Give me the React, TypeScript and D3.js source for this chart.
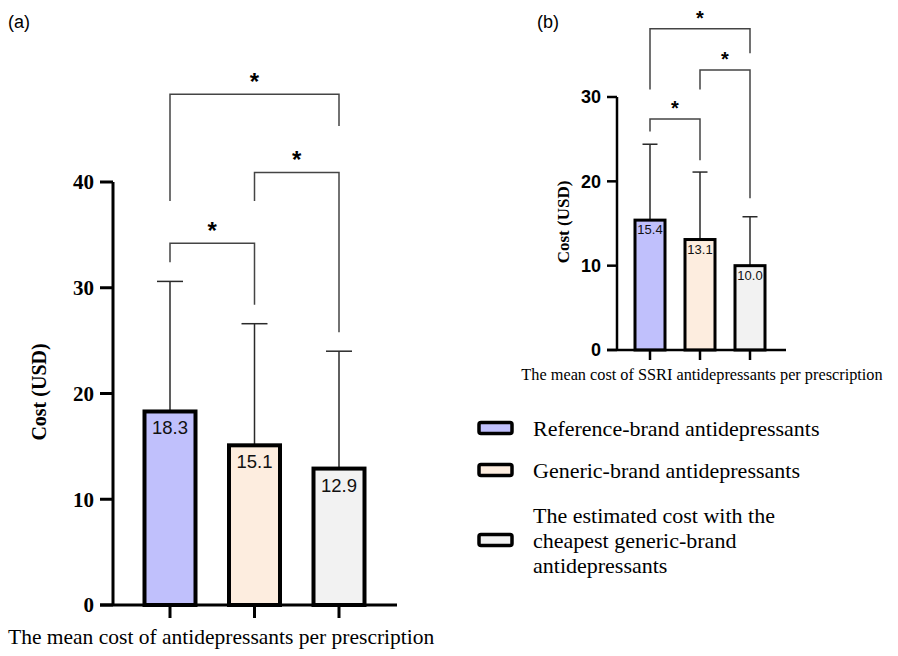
import React from 'react';
import * as d3 from 'd3';

// data
const groups = [
  'Reference-brand antidepressants',
  'Generic-brand antidepressants',
  'The estimated cost with the cheapest generic-brand antidepressants',
];
const legendLines = [
  ['Reference-brand antidepressants'],
  ['Generic-brand antidepressants'],
  ['The estimated cost with the', 'cheapest generic-brand', 'antidepressants'],
];
const fills = ['#c0c0fc', '#fdeddf', '#f2f2f2'];

const meanA = [18.3, 15.1, 12.9];
const upperA = [30.6, 26.6, 24.0];
const ticksA = [0, 10, 20, 30, 40];
// brackets: [from, to, top, leftEnd, rightEnd] in USD
const bracketsA = [
  [0, 1, 34.2, 32.4, 28.4],
  [1, 2, 40.9, 38.2, 25.8],
  [0, 2, 48.3, 38.2, 45.3],
];

const meanB = [15.4, 13.1, 10.0];
const upperB = [24.4, 21.1, 15.8];
const ticksB = [0, 10, 20, 30];
const bracketsB = [
  [0, 1, 27.4, 25.9, 22.5],
  [1, 2, 33.2, 30.9, 18.0],
  [0, 2, 38.1, 30.9, 35.2],
];

const serif = '"Liberation Serif", "Times New Roman", serif';
const sans = '"Liberation Sans", Arial, sans-serif';

type PanelProps = {
  means: number[];
  uppers: number[];
  ticks: number[];
  brackets: number[][];
  y: d3.ScaleLinear<number, number>;
  x: d3.ScalePoint<number>;
  axisLeft: number;
  axisRight: number;
  barW: number;
  barStroke: number;
  capW: number;
  tickLen: number;
  tickFont: string;
  tickSize: number;
  valSize: number;
  valOffset: number;
  starSize: number;
  axisStroke: number;
};

const Panel = (p: PanelProps) => {
  const [y0] = p.y.range();
  const yTop = p.y(d3.max(p.ticks) as number);
  const idx = p.means.map((_, i) => i);
  return (
    <g>
      {/* error bars */}
      {idx.map((i) => (
        <g key={'e' + i} stroke="#2a2a2a" strokeWidth={1.5}>
          <line x1={p.x(i)} x2={p.x(i)} y1={p.y(p.means[i])} y2={p.y(p.uppers[i])} />
          <line
            x1={(p.x(i) as number) - p.capW / 2}
            x2={(p.x(i) as number) + p.capW / 2}
            y1={p.y(p.uppers[i])}
            y2={p.y(p.uppers[i])}
          />
        </g>
      ))}
      {/* bars */}
      {idx.map((i) => (
        <rect
          key={'b' + i}
          x={(p.x(i) as number) - p.barW / 2}
          y={p.y(p.means[i])}
          width={p.barW}
          height={y0 - p.y(p.means[i])}
          fill={fills[i]}
          stroke="#000"
          strokeWidth={p.barStroke}
        />
      ))}
      {idx.map((i) => (
        <text
          key={'v' + i}
          x={p.x(i)}
          y={p.y(p.means[i]) + p.valOffset}
          textAnchor="middle"
          fontFamily={sans}
          fontSize={p.valSize}
          fill="#111"
        >
          {p.means[i].toFixed(1)}
        </text>
      ))}
      {/* axes */}
      <g stroke="#000" strokeWidth={p.axisStroke}>
        <line x1={p.axisLeft} x2={p.axisLeft} y1={yTop} y2={y0} />
        <line x1={p.axisLeft - p.tickLen} x2={p.axisRight} y1={y0} y2={y0} />
        {p.ticks.map((t) => (
          <line key={'yt' + t} x1={p.axisLeft - p.tickLen} x2={p.axisLeft} y1={p.y(t)} y2={p.y(t)} />
        ))}
        {idx.map((i) => (
          <line key={'xt' + i} x1={p.x(i)} x2={p.x(i)} y1={y0} y2={y0 + p.tickLen} />
        ))}
      </g>
      {p.ticks.map((t) => (
        <text
          key={'yl' + t}
          x={p.axisLeft - p.tickLen - 6}
          y={p.y(t)}
          dy="0.35em"
          textAnchor="end"
          fontFamily={p.tickFont}
          fontWeight="bold"
          fontSize={p.tickSize}
        >
          {t}
        </text>
      ))}
      {/* significance brackets */}
      {p.brackets.map(([a, b, top, le, re], k) => (
        <g key={'s' + k}>
          <path
            d={`M${p.x(a)},${p.y(le)}V${p.y(top)}H${p.x(b)}V${p.y(re)}`}
            fill="none"
            stroke="#444"
            strokeWidth={1.5}
          />
          <text
            x={((p.x(a) as number) + (p.x(b) as number)) / 2}
            y={p.y(top) - 4}
            textAnchor="middle"
            fontFamily={sans}
            fontWeight="bold"
            fontSize={p.starSize}
          >
            *
          </text>
        </g>
      ))}
    </g>
  );
};

export default function App() {
  const W = 898;
  const H = 656;

  const yA = d3.scaleLinear().domain([0, 40]).range([605, 182]);
  const xA = d3.scalePoint<number>().domain([0, 1, 2]).range([170, 339]);
  const yB = d3.scaleLinear().domain([0, 30]).range([350, 97]);
  const xB = d3.scalePoint<number>().domain([0, 1, 2]).range([650, 750]);

  return (
    <svg
      width={W}
      height={H}
      style={{ position: 'absolute', left: 0, top: 0, background: '#fff' }}
    >
      <text x={8} y={28} fontFamily={sans} fontSize={18}>(a)</text>
      <text x={537} y={28} fontFamily={sans} fontSize={18}>(b)</text>

      <Panel
        means={meanA}
        uppers={upperA}
        ticks={ticksA}
        brackets={bracketsA}
        y={yA}
        x={xA}
        axisLeft={113}
        axisRight={397}
        barW={51}
        barStroke={4}
        capW={26}
        tickLen={13}
        tickFont={serif}
        tickSize={21}
        valSize={18.5}
        valOffset={23}
        starSize={24}
        axisStroke={3}
      />
      <text
        transform="translate(46,392) rotate(-90)"
        textAnchor="middle"
        fontFamily={serif}
        fontWeight="bold"
        fontSize={20}
      >
        Cost (USD)
      </text>
      <text x={8} y={644} fontFamily={serif} fontSize={21.5}>
        The mean cost of antidepressants per prescription
      </text>

      <Panel
        means={meanB}
        uppers={upperB}
        ticks={ticksB}
        brackets={bracketsB}
        y={yB}
        x={xB}
        axisLeft={617}
        axisRight={786}
        barW={30}
        barStroke={3}
        capW={15}
        tickLen={10}
        tickFont={sans}
        tickSize={18}
        valSize={13}
        valOffset={14}
        starSize={20}
        axisStroke={2.5}
      />
      <text
        transform="translate(569,222) rotate(-90)"
        textAnchor="middle"
        fontFamily={serif}
        fontWeight="bold"
        fontSize={17}
      >
        Cost (USD)
      </text>
      <text x={702} y={380} textAnchor="middle" fontFamily={serif} fontSize={16.3}>
        The mean cost of SSRI antidepressants per prescription
      </text>

      {/* legend */}
      {groups.map((g, i) => {
        const cy = [428, 470, 540][i];
        const lines = legendLines[i];
        return (
          <g key={g}>
            <rect
              x={479}
              y={cy - 5.5}
              width={33}
              height={11}
              rx={2}
              fill={fills[i]}
              stroke="#000"
              strokeWidth={3.5}
            />
            {lines.map((l, j) => (
              <text
                key={j}
                x={533}
                y={cy + (j - (lines.length - 1) / 2) * 25}
                dy="0.35em"
                fontFamily={serif}
                fontSize={22}
              >
                {l}
              </text>
            ))}
          </g>
        );
      })}
    </svg>
  );
}
